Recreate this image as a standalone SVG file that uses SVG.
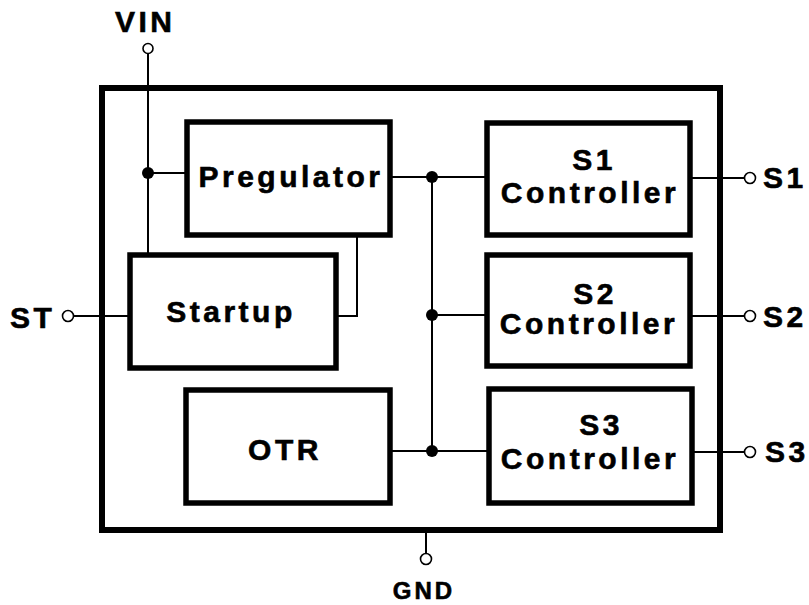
<svg xmlns="http://www.w3.org/2000/svg" width="809" height="605" viewBox="0 0 809 605">
<style>
.box{fill:none;stroke:#000;stroke-width:6}
.blk{fill:#fff;stroke:#000;stroke-width:5.5}
.w{fill:none;stroke:#000;stroke-width:2}
.pin{fill:#fff;stroke:#000;stroke-width:1.6}
.dot{fill:#000}
text{font-family:"Liberation Sans",Arial,sans-serif;font-weight:bold;font-size:30px;letter-spacing:3.5px;fill:#000;stroke:#000;stroke-width:0.6}
.c{text-anchor:middle}
</style>
<rect width="809" height="605" fill="#fff"/>
<g id="package"><rect class="box" x="102" y="88" width="618" height="442"/></g>
<g id="connectors">
<path class="w" d="M148 54V255M148 173H187"/>
<path class="w" d="M336 316H357V235"/>
<path class="w" d="M73.5 316H130"/>
<path class="w" d="M390 177H487M432 177V451M432 315H487M390 451H489"/>
<path class="w" d="M690 178H744.5M690 316H744.5M692 452H744.5"/>
<path class="w" d="M426 533V553.5"/>
<circle class="dot" cx="148" cy="173" r="6"/>
<circle class="dot" cx="432" cy="177" r="6"/>
<circle class="dot" cx="432" cy="315" r="6"/>
<circle class="dot" cx="432" cy="451" r="6"/>
</g>
<g id="pregulator"><rect class="blk" x="187" y="122" width="203" height="113"/><text class="c" x="291" y="187">Pregulator</text></g>
<g id="startup"><rect class="blk" x="130" y="255" width="206" height="113"/><text class="c" x="231" y="322">Startup</text></g>
<g id="otr"><rect class="blk" x="186" y="390" width="204" height="113"/><text class="c" x="285" y="460">OTR</text></g>
<g id="s1ctl"><rect class="blk" x="487" y="123" width="203" height="112"/><text class="c" x="594" y="170">S1</text><text class="c" x="590" y="203">Controller</text></g>
<g id="s2ctl"><rect class="blk" x="487" y="255" width="203" height="111"/><text class="c" x="595" y="304">S2</text><text class="c" x="589" y="334">Controller</text></g>
<g id="s3ctl"><rect class="blk" x="489" y="389" width="203" height="114"/><text class="c" x="601" y="435">S3</text><text class="c" x="590" y="469">Controller</text></g>
<g id="vin"><circle class="pin" cx="148" cy="48.5" r="5"/><text x="115" y="32">VIN</text></g>
<g id="st"><circle class="pin" cx="68" cy="316" r="5.5"/><text x="10" y="328">ST</text></g>
<g id="s1"><circle class="pin" cx="750" cy="178" r="5.5"/><text x="763" y="188">S1</text></g>
<g id="s2"><circle class="pin" cx="750" cy="316" r="5.5"/><text x="763" y="327">S2</text></g>
<g id="s3"><circle class="pin" cx="750" cy="452" r="5.5"/><text x="765" y="462">S3</text></g>
<g id="gnd"><circle class="pin" cx="426" cy="559" r="5.5"/><text class="c" x="424" y="599" style="font-size:24px;letter-spacing:3px">GND</text></g>
</svg>
